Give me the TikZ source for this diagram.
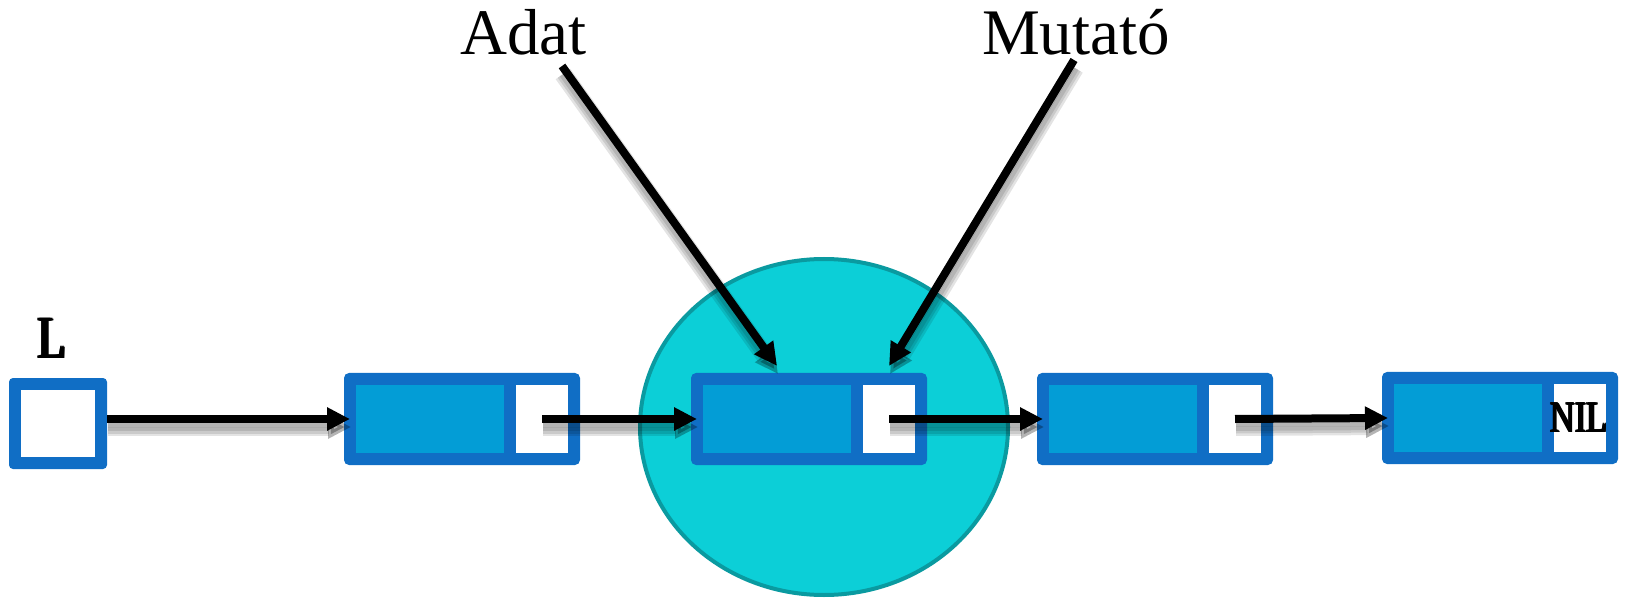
\documentclass[tikz,border=0pt]{standalone}
\usepackage{fontspec}
\setmainfont{Liberation Serif}
% condensed lettering for the list labels
\newfontfamily\boldlab{Liberation Serif}[FakeStretch=0.78]
\usetikzlibrary{arrows.meta,shapes.geometric}

\definecolor{cellrim}{HTML}{106EC5}
\definecolor{celldata}{HTML}{039DD6}
\definecolor{focusfill}{HTML}{0CCFD7}
\definecolor{focusrim}{HTML}{0A9AA0}

% heavy strokes: the word set a few times with tiny offsets
\newcommand\heavy[1]{\leavevmode
  \rlap{#1}\rlap{\kern0.017em#1}\rlap{\kern0.034em#1}%
  \rlap{\raisebox{0.015em}{#1}}\rlap{\kern0.034em\raisebox{0.015em}{#1}}%
  \kern0.05em#1}

% arrow with a soft drop shadow underneath
\newcommand\shadowlink[2]{%
  \foreach \w in {9pt,6.5pt,4pt}{\draw[linkshadow=\w] #1 -- #2;}
  \draw[link] #1 -- #2;}

\begin{document}
\begin{tikzpicture}[x=0.5pt,y=-0.5pt,
  box/.style={rectangle, inner sep=0pt, outer sep=0pt, anchor=north west},
  cellrimbox/.style={box, fill=cellrim, minimum width=118pt, minimum height=46pt, rounded corners=2.5pt},
  datacell/.style={box, fill=celldata, minimum width=74pt, minimum height=34pt},
  ptrcell/.style={box, fill=white, minimum width=26pt, minimum height=34pt},
  tip/.style={-{Triangle[length=11.5pt,width=11pt]}},
  link/.style={tip, line width=4pt, draw=black},
  linkshadow/.style={tip, line width=#1, draw=black, fill=black, opacity=0.11,
    transform canvas={shift={(1,8)}}},
  caption/.style={anchor=base, inner sep=0pt, font=\fontsize{32.5}{36}\selectfont},
]
\useasboundingbox (0,0) rectangle (1626,598);

% highlighted element
\node[ellipse, draw=focusrim, line width=2pt, fill=focusfill, inner sep=0pt,
      minimum width=184pt, minimum height=168pt] (focus) at (824,427) {};

% list head
\node[box, fill=cellrim, minimum width=49pt, minimum height=45.5pt, rounded corners=2pt] (lbox) at (9,378) {};
\node[box, fill=white, minimum width=37pt, minimum height=33.5pt] (lin) at (21,390) {};
\node[anchor=base, inner sep=0pt, font=\boldlab\fontsize{30}{32}\selectfont] (lname) at (52.5,358) {\heavy{L}};

% list cells
\foreach \i/\x/\y in {1/344/373, 2/691/373, 3/1037/373, 4/1382/372}{
  \node[cellrimbox] (n\i) at (\x,\y) {};
  \node[datacell] (d\i) at ([shift={(12,12)}]n\i.north west) {};
  \node[ptrcell] (p\i) at ([shift={(172,12)}]n\i.north west) {};
}
\node[anchor=base, inner sep=0pt, font=\boldlab\fontsize{22}{24}\selectfont] (nil) at (1579,432) {\heavy{NIL}};

% labels
\node[caption] (adat) at (523.5,55) {Adat};
\node[caption] (mutato) at (1076,55) {Mutató};
\coordinate (adatfoot) at (562,66);
\coordinate (mutfoot) at (1074,60);

% links
\shadowlink{(lbox.east |- n1.west)}{([xshift=3pt]n1.west)}
\shadowlink{(p1.center)}{([xshift=3pt]n2.west)}
\shadowlink{(p2.center)}{([xshift=3pt]n3.west)}
\shadowlink{(p3.center)}{([xshift=3pt]n4.west)}

% label pointers
\shadowlink{(adatfoot)}{([yshift=3.5pt]d2.center |- n2.north)}
\shadowlink{(mutfoot)}{([yshift=3.5pt]p2.center |- n2.north)}
\end{tikzpicture}
\end{document}
